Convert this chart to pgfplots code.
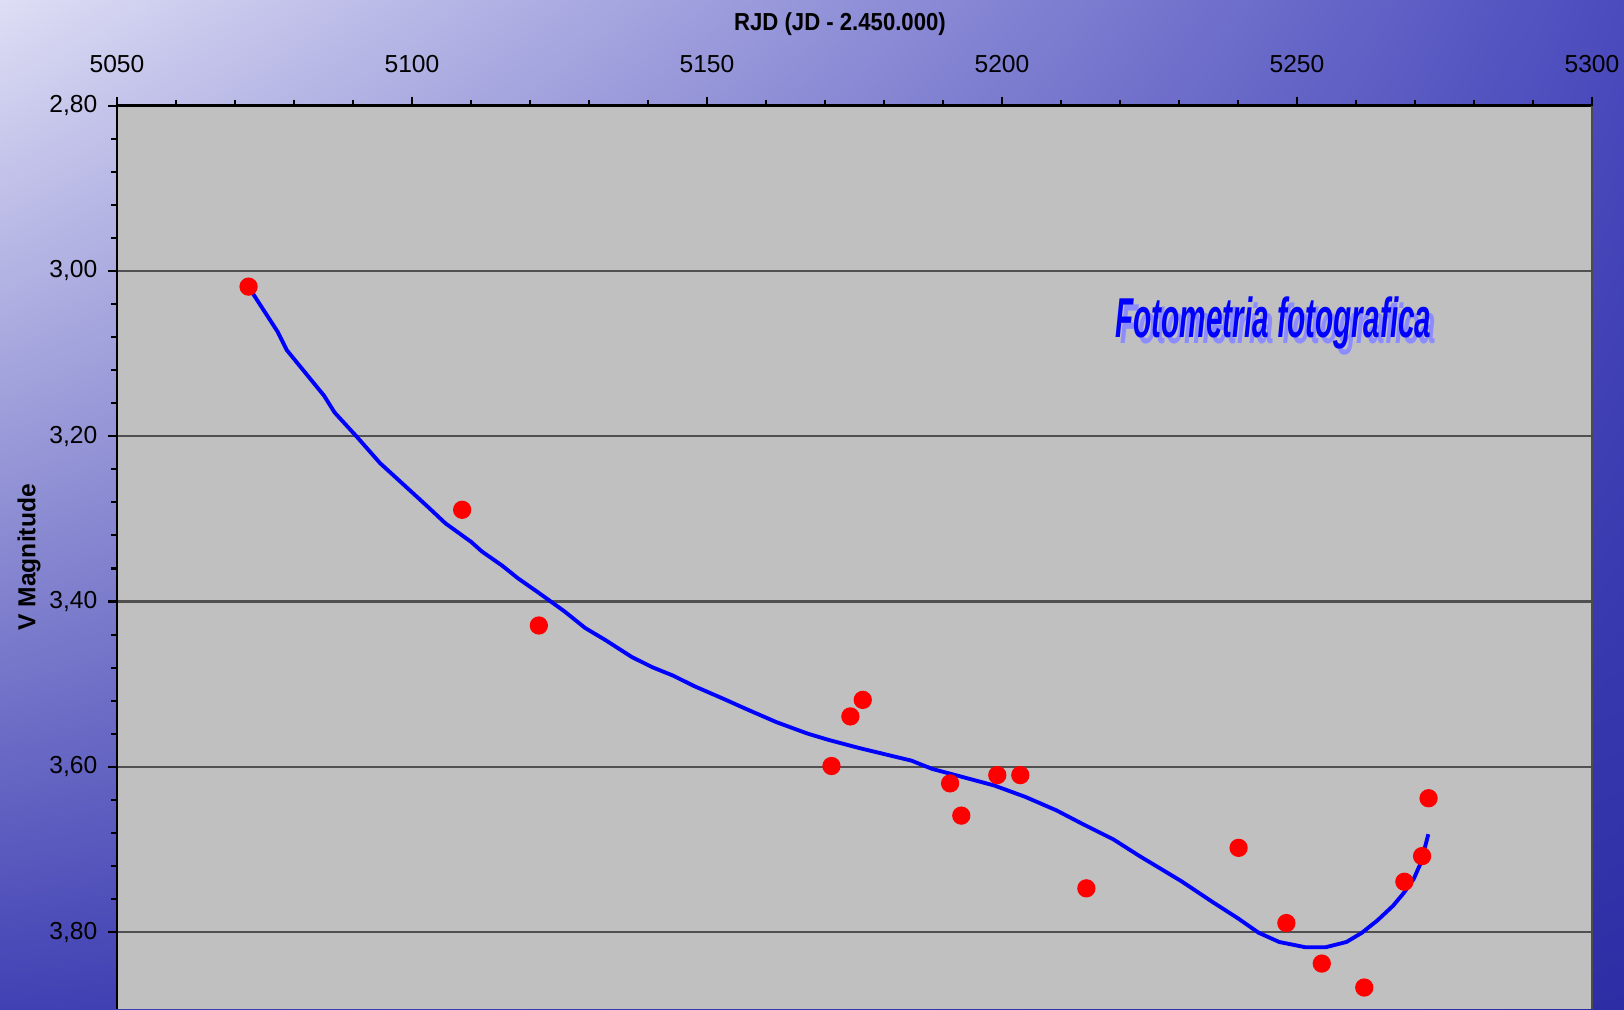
\documentclass[border=0pt]{standalone}
\usepackage{pgfplots}
\pgfplotsset{compat=1.18}
\usetikzlibrary{shadings}
\usepackage{fontspec}
\setmainfont{Liberation Sans}
\definecolor{bgUL}{RGB}{222,222,245}
\definecolor{bgUR}{RGB}{75,75,190}
\definecolor{bgLL}{RGB}{65,65,180}
\definecolor{bgLR}{RGB}{45,45,165}
\definecolor{plotgray}{RGB}{192,192,192}
\definecolor{gridgray}{RGB}{80,80,80}
\definecolor{shadowblue}{RGB}{140,140,255}
\pgfplotstableread{
x y
5072.3 3.019
5108.5 3.289
5121.5 3.429
5171.1 3.599
5174.3 3.539
5176.4 3.519
5191.2 3.620
5193.1 3.659
5199.2 3.610
5203.1 3.610
5214.3 3.747
5240.1 3.698
5248.2 3.789
5254.2 3.838
5261.4 3.867
5268.2 3.739
5271.2 3.708
5272.3 3.638
}\obsdata
\pgfplotstableread{
x y
5072.65 3.0232
5074.93 3.0483
5077.21 3.0734
5078.79 3.0959
5081.95 3.1235
5085.11 3.1511
5086.87 3.1712
5090.73 3.2013
5094.59 3.2326
5098.63 3.2589
5102.67 3.2853
5105.65 3.3053
5110.04 3.3279
5111.80 3.3392
5115.31 3.3567
5117.94 3.3718
5121.45 3.3893
5125.84 3.4119
5129.35 3.4320
5132.87 3.4470
5137.25 3.4671
5140.77 3.4796
5144.28 3.4897
5147.79 3.5022
5153.05 3.5185
5156.57 3.5298
5161.83 3.5461
5167.10 3.5599
5170.61 3.5674
5175.88 3.5774
5184.66 3.5925
5188.17 3.6025
5193.43 3.6125
5198.70 3.6226
5203.97 3.6364
5209.24 3.6527
5213.62 3.6690
5218.89 3.6878
5223.28 3.7078
5230.30 3.7379
5235.57 3.7630
5239.96 3.7831
5243.47 3.8006
5246.98 3.8119
5251.37 3.8182
5254.88 3.8182
5258.39 3.8119
5261.03 3.8006
5263.66 3.7856
5266.29 3.7680
5268.05 3.7530
5269.80 3.7354
5271.03 3.7154
5272.26 3.6815
}\fitdata
\begin{document}
\begin{tikzpicture}
\useasboundingbox (0,0) rectangle (16.24cm,10.09cm);
\shade[upper left=bgUL, upper right=bgUR, lower left=bgLL, lower right=bgLR] (0,0) rectangle (16.24cm,10.09cm);
\begin{axis}[
  at={(1.17cm,0cm)}, anchor=south west,
  scale only axis, width=14.75cm, height=9.034cm,
  xmin=5050, xmax=5300, ymin=2.8, ymax=3.893,
  y dir=reverse,
  axis x line*=top, axis y line*=left,
  axis line style={black, line width=0.8pt},
  axis background/.style={fill=plotgray},
  xtick={5050,5100,5150,5200,5250,5300},
  minor x tick num=4,
  ytick={2.8,3.0,3.2,3.4,3.6,3.8},
  minor y tick num=4,
  tick align=outside,
  major tick length=0.09cm, minor tick length=0.06cm,
  tick style={black, line width=0.6pt},
  ymajorgrids,
  major grid style={gridgray, line width=0.6pt},
  /pgf/number format/assume math mode=true,
  font=\fontsize{7.0}{8}\selectfont,
  xticklabel={\pgfmathprintnumber[1000 sep={},fixed,precision=0]{\tick}},
  yticklabel={\pgfmathprintnumber[fixed,fixed zerofill,precision=2,use comma]{\tick}},
  xticklabel style={anchor=base, inner sep=0pt, yshift=0.24cm},
  yticklabel style={anchor=east, inner sep=0pt, xshift=-0.1cm},
  xlabel={\bfseries RJD (JD - 2.450.000)},
  xlabel style={at={(axis description cs:0.5,1)}, anchor=center, inner sep=0pt, yshift=0.81cm, xshift=-0.145cm, xscale=0.9},
  ylabel={\bfseries V Magnitude},
  ylabel style={at={(axis description cs:-0.0597,0.5)}, anchor=center, inner sep=0pt},
  clip=false,
]
\draw[gray!60!black, line width=0.6pt] (rel axis cs:1,0) -- (rel axis cs:1,1);
\addplot[only marks, mark=*, mark size=2.4pt, color=red, mark options={fill=red, draw=red}] table[x=x,y=y] {\obsdata};
\addplot[blue, line width=1.1pt, no marks] table[x=x,y=y] {\fitdata};
\node[font=\fontsize{16}{18}\selectfont\bfseries\itshape, text=shadowblue, xscale=0.53, anchor=center] at ([xshift=0.05cm,yshift=-0.06cm]axis cs:5246,3.063) {Fotometria fotografica};
\node[font=\fontsize{16}{18}\selectfont\bfseries\itshape, text=blue, xscale=0.53, anchor=center] at (axis cs:5246,3.063) {Fotometria fotografica};
\end{axis}
\end{tikzpicture}
\end{document}
